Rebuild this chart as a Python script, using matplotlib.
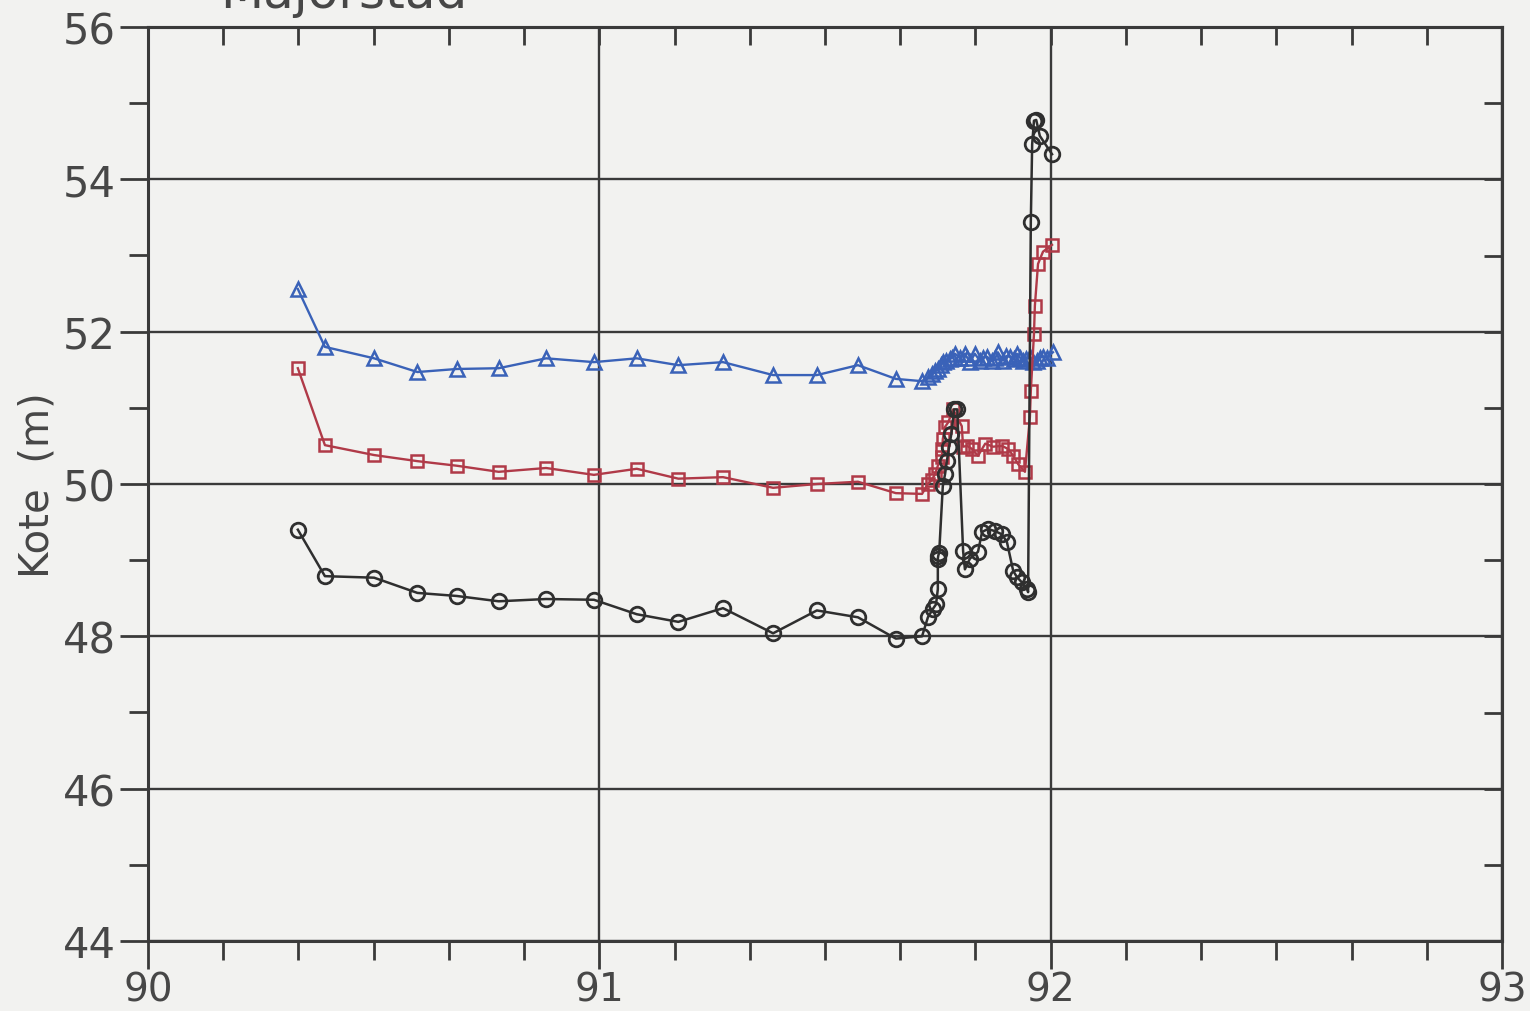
import matplotlib
matplotlib.use('Agg')
import matplotlib.pyplot as plt
from matplotlib.ticker import MultipleLocator

# time axis (years, 90 = 1990) for the first monthly readings, shared by all three series
base_x = [90.332, 90.392, 90.501, 90.597, 90.684, 90.777, 90.882, 90.988,
          91.083, 91.175, 91.274, 91.385, 91.482, 91.573, 91.657, 91.715]

# black circles (lowest level)
black_x = base_x + [91.728, 91.739, 91.746, 91.750, 91.750, 91.751, 91.753, 91.761,
                    91.766, 91.770, 91.775, 91.780, 91.786, 91.793, 91.806, 91.810,
                    91.821, 91.839, 91.848, 91.861, 91.877, 91.892, 91.903, 91.917,
                    91.925, 91.936, 91.948, 91.950, 91.956, 91.959, 91.963, 91.968,
                    91.976, 92.003]
black_y = [49.40, 48.79, 48.77, 48.57, 48.53, 48.46, 48.49, 48.48,
           48.29, 48.19, 48.37, 48.04, 48.34, 48.25, 47.97, 48.00] + \
          [48.25, 48.36, 48.42, 48.62, 49.02, 49.06, 49.10, 49.97,
           50.13, 50.30, 50.49, 50.66, 50.98, 50.98, 49.12, 48.88,
           49.02, 49.11, 49.37, 49.41, 49.38, 49.34, 49.24, 48.86,
           48.78, 48.71, 48.62, 48.58, 53.44, 54.46, 54.77, 54.78,
           54.57, 54.33]

# red squares (middle level)
red_x = base_x + [91.728, 91.736, 91.744, 91.750, 91.759, 91.760, 91.761, 91.766,
                  91.773, 91.784, 91.803, 91.806, 91.815, 91.826, 91.839, 91.855,
                  91.872, 91.892, 91.906, 91.917, 91.928, 91.943, 91.954, 91.956,
                  91.963, 91.965, 91.972, 91.983, 92.003]
red_y = [51.52, 50.51, 50.38, 50.30, 50.24, 50.16, 50.21, 50.12,
         50.20, 50.07, 50.09, 49.95, 50.00, 50.03, 49.88, 49.87] + \
        [50.00, 50.05, 50.13, 50.24, 50.35, 50.46, 50.59, 50.75,
         50.81, 50.98, 50.76, 50.49, 50.50, 50.46, 50.37, 50.53,
         50.49, 50.50, 50.46, 50.37, 50.26, 50.16, 50.88, 51.22,
         51.97, 52.34, 52.89, 53.05, 53.14]

# blue triangles (top level)
blue_x = base_x + [91.728, 91.737, 91.744, 91.750, 91.756, 91.761, 91.768, 91.777,
                   91.782, 91.788, 91.799, 91.810, 91.815, 91.821, 91.832, 91.843,
                   91.850, 91.859, 91.870, 91.877, 91.883, 91.894, 91.902, 91.910,
                   91.918, 91.925, 91.932, 91.939, 91.946, 91.954, 91.961, 91.970,
                   91.977, 91.983, 91.992, 92.005]
blue_y = [52.56, 51.80, 51.65, 51.47, 51.51, 51.52, 51.65, 51.60,
          51.65, 51.56, 51.60, 51.43, 51.43, 51.56, 51.38, 51.35] + \
         [51.40, 51.44, 51.48, 51.51, 51.56, 51.60, 51.62, 51.64,
          51.66, 51.71, 51.66, 51.71, 51.66, 51.60, 51.71, 51.62,
          51.66, 51.67, 51.62, 51.65, 51.73, 51.62, 51.68, 51.67,
          51.64, 51.71, 51.66, 51.62, 51.64, 51.67, 51.60, 51.62,
          51.66, 51.67, 51.66, 51.73]

x_ticks = [90, 91, 92, 93]
y_ticks = [44, 46, 48, 50, 52, 54, 56]

bg = '#f2f2f0'
ink = '#3a3a3a'
txt = '#474747'

fig = plt.figure(figsize=(15.3, 10.12), dpi=100, facecolor=bg)
ax = fig.add_axes([148/1530, 1 - 942/1012, 1354/1530, 914/1012], facecolor=bg)

ax.plot(blue_x, blue_y, color='#3a62b8', lw=1.7, marker='^', ms=10,
        mfc='none', mec='#3a62b8', mew=1.8, zorder=3)
ax.plot(red_x, red_y, color='#b03a48', lw=1.7, marker='s', ms=9,
        mfc='none', mec='#b03a48', mew=1.8, zorder=4)
ax.plot(black_x, black_y, color='#2f2f2f', lw=1.8, marker='o', ms=10.5,
        mfc='none', mec='#2f2f2f', mew=2.0, zorder=5)

ax.set_xlim(90, 93)
ax.set_ylim(44, 56)
ax.set_xticks(x_ticks)
ax.set_yticks(y_ticks)
ax.xaxis.set_minor_locator(MultipleLocator(1/6))
ax.yaxis.set_minor_locator(MultipleLocator(1))
ax.grid(True, which='major', color=ink, lw=1.7)
ax.set_axisbelow(True)

ax.tick_params(which='both', direction='out', color=ink, width=2,
               labelcolor=txt, top=False, right=False)
ax.tick_params(which='major', length=20)
ax.tick_params(which='minor', length=14)
ax.tick_params(axis='y', labelsize=30, pad=3)
ax.tick_params(axis='x', labelsize=28, pad=1)
for s in ax.spines.values():
    s.set_color(ink)
    s.set_linewidth(2.2)

# top and right ticks point inward
top = ax.secondary_xaxis('top')
top.set_xticks(x_ticks)
top.xaxis.set_minor_locator(MultipleLocator(1/6))
top.tick_params(which='both', direction='in', length=13, width=2, color=ink,
                labeltop=False)
right = ax.secondary_yaxis('right')
right.set_yticks(y_ticks)
right.yaxis.set_minor_locator(MultipleLocator(1))
right.tick_params(which='both', direction='in', length=13, width=2, color=ink,
                  labelright=False)
for sec in (top, right):
    for s in sec.spines.values():
        s.set_color(ink)
        s.set_linewidth(2.2)

ax.set_ylabel('Kote  (m)', fontsize=29, color=txt)
ax.yaxis.set_label_coords(-0.067, 0.5)

fig.text(220/1530, 1 - 8/1012, 'Majorstad', fontsize=36, color=txt,
         ha='left', va='baseline')

fig.savefig('out.png', dpi=100, facecolor=bg)
